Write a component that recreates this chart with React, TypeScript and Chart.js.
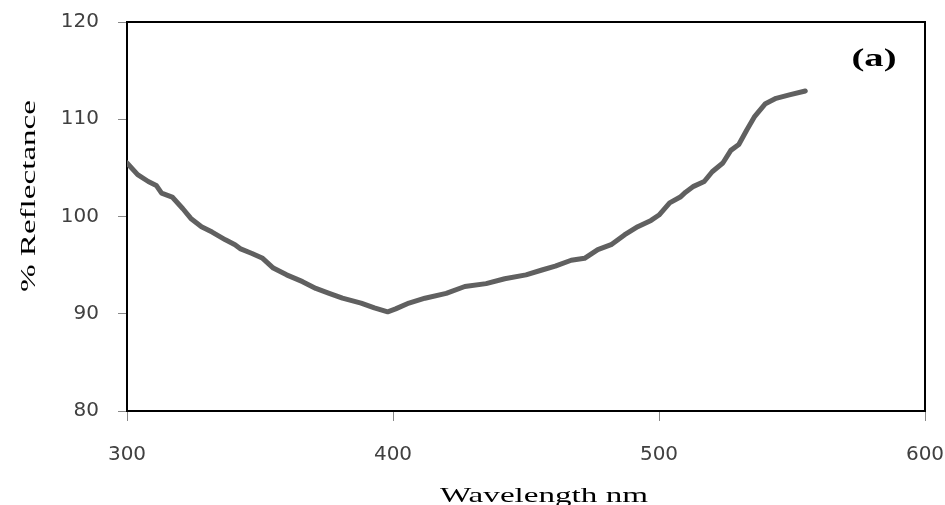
import React, { useEffect, useRef } from "react";
import { Chart, registerables } from "chart.js";

Chart.register(...registerables);

const wavelength = [300, 304, 308, 311, 313, 317, 321, 324, 328, 332, 337, 340.6, 342.5, 347, 351, 355, 360, 366, 371, 376, 381, 388, 393, 398, 401, 406, 412, 420, 427, 435, 442, 450, 456, 461, 467, 472, 477, 482, 487, 492, 497, 500, 504, 508, 510, 513, 517, 520, 524, 527, 530, 533, 536, 540, 544, 549, 555];
const reflectance = [105.5, 104.3, 103.6, 103.2, 102.4, 102.0, 100.8, 99.8, 98.95, 98.4, 97.6, 97.1, 96.7, 96.2, 95.7, 94.7, 94.0, 93.3, 92.6, 92.1, 91.6, 91.1, 90.6, 90.2, 90.5, 91.1, 91.6, 92.1, 92.8, 93.1, 93.6, 94.0, 94.5, 94.9, 95.5, 95.7, 96.6, 97.1, 98.1, 98.95, 99.6, 100.15, 101.4, 102.0, 102.5, 103.1, 103.6, 104.6, 105.5, 106.8, 107.4, 108.9, 110.3, 111.6, 112.15, 112.5, 112.9];

const xTitle = "Wavelength nm";
const yTitle = "% Reflectance";
const panelLabel = "(a)";

function drawStretched(ctx: CanvasRenderingContext2D, text: string, cx: number, cy: number, font: string, targetWidth: number, rotate: boolean) {
  ctx.save();
  ctx.font = font;
  const w = ctx.measureText(text).width;
  ctx.translate(cx, cy);
  if (rotate) ctx.rotate(-Math.PI / 2);
  ctx.scale(targetWidth / w, 1);
  ctx.textAlign = "center";
  ctx.textBaseline = "alphabetic";
  ctx.fillStyle = "#000";
  ctx.fillText(text, 0, 0);
  ctx.restore();
}

const decorPlugin = {
  id: "decor",
  beforeDatasetsDraw(chart: any) {
    const { ctx, chartArea } = chart;
    ctx.save();
    ctx.strokeStyle = "#000";
    ctx.lineWidth = 2;
    ctx.strokeRect(chartArea.left, chartArea.top, chartArea.right - chartArea.left, chartArea.bottom - chartArea.top);
    ctx.restore();
  },
  afterDraw(chart: any) {
    const { ctx } = chart;
    drawStretched(ctx, xTitle, 544, 502, "22px 'Liberation Serif'", 208, false);
    drawStretched(ctx, yTitle, 35, 196, "22px 'Liberation Serif'", 192, true);
    drawStretched(ctx, panelLabel, 874, 66, "bold 26px 'Liberation Serif'", 45, false);
  },
};

export default function App() {
  const ref = useRef<HTMLCanvasElement>(null);
  useEffect(() => {
    if (!ref.current) return;
    const chart = new Chart(ref.current, {
      type: "line",
      data: {
        datasets: [
          {
            data: wavelength.map((x, i) => ({ x, y: reflectance[i] })),
            borderColor: "#606060",
            borderWidth: 5,
            pointRadius: 0,
            tension: 0,
            borderCapStyle: "round",
            borderJoinStyle: "round",
          },
        ],
      },
      options: {
        animation: false,
        responsive: false,
        layout: { padding: { left: 0, top: 22, right: 20, bottom: 0 } },
        plugins: { legend: { display: false }, tooltip: { enabled: false } },
        scales: {
          x: {
            type: "linear",
            min: 300,
            max: 600,
            ticks: { stepSize: 100, padding: 22, color: "#404040", font: { family: "'DejaVu Sans'", size: 20 } },
            grid: { drawOnChartArea: false, drawTicks: true, tickLength: 10, color: "#888" },
            border: { display: false },
            afterFit: (s: any) => { s.height = 94; s.paddingLeft = 0; s.paddingRight = 0; },
          },
          y: {
            min: 80,
            max: 120,
            ticks: { stepSize: 10, padding: 19, color: "#404040", font: { family: "'DejaVu Sans'", size: 20 } },
            grid: { drawOnChartArea: false, drawTicks: true, tickLength: 9, color: "#888" },
            border: { display: false },
            afterFit: (s: any) => { s.width = 127; s.paddingTop = 0; s.paddingBottom = 0; },
          },
        },
      },
      plugins: [decorPlugin],
    });
    return () => chart.destroy();
  }, []);
  return (
    <div style={{ position: "fixed", left: 0, top: 0, width: 945, height: 505, background: "#fff" }}>
      <canvas ref={ref} width={945} height={505} style={{ display: "block" }} />
    </div>
  );
}
